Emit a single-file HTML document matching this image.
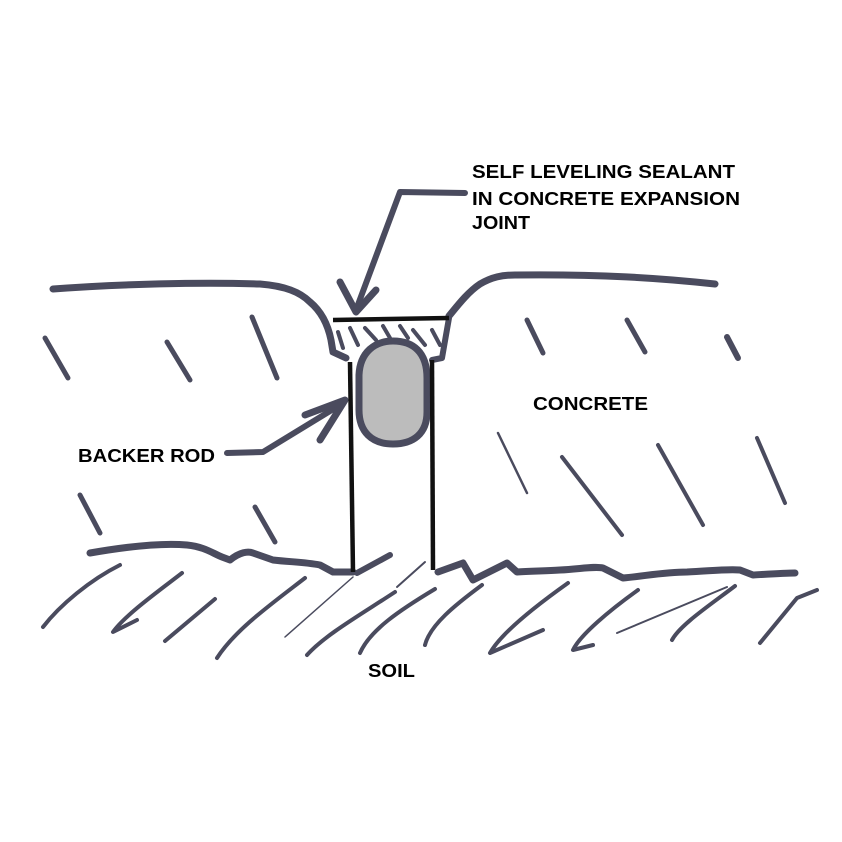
<!DOCTYPE html>
<html><head><style>
html,body{margin:0;padding:0;background:#fff;}
svg{display:block;}
text{font-family:"Liberation Sans",sans-serif;font-weight:bold;font-size:18px;fill:#000;}
</style></head><body>
<svg width="842" height="842" viewBox="0 0 842 842">
<g fill="none" stroke="#4a4b5e" stroke-linecap="round" stroke-linejoin="round">
<!-- top surface -->
<path d="M53,289 C120,284 200,282 260,284 C285,286 300,292 310,302 C322,312 328,325 331,340 L333,352 L346,358" stroke-width="7"/>
<path d="M449,316 C458,305 468,292 480,284 C492,277 502,275 515,275 C600,274 660,278 715,284" stroke-width="7"/>
<path d="M449,318 L442,358 L432,360" stroke-width="6"/>
<!-- sealant hatches -->
<g stroke-width="4">
<path d="M338,332 L343,348"/><path d="M350,328 L358,345"/><path d="M365,328 L376,340"/><path d="M383,326 L390,338"/><path d="M400,326 L408,338"/><path d="M413,330 L425,345"/><path d="M432,330 L440,345"/>
</g>
<!-- backer rod -->
<path d="M359,375 C360,352 375,341 393,341 C413,341 427,352 427,378 L427,412 C427,434 413,444 393,444 C372,444 359,432 359,410 Z" fill="#bcbcbc" stroke-width="7"/>
<!-- bottom lines -->
<path d="M90,553 C130,546 165,543 187,545 C205,547 212,553 222,557 L230,560 C240,552 248,551 253,553 L273,560 C290,562 305,562 320,565 L333,572 L353,572" stroke-width="7"/>
<path d="M438,572 L463,563 L473,580 L507,563 L517,572 C530,571 545,571 560,570 C580,569 595,566 603,568 L623,578 C645,576 665,572 687,572 C710,571 725,569 740,570 L753,575 C770,574 785,573 795,573" stroke-width="7"/>
<!-- concrete hatches -->
<g stroke-width="5">
<path d="M45,338 L68,378"/><path d="M167,342 L190,380"/><path d="M252,317 L277,378"/>
<path d="M527,320 L543,353"/><path d="M627,320 L645,352"/><path d="M727,337 L738,358" stroke-width="6"/>
<path d="M498,433 L527,493" stroke-width="2.5"/><path d="M562,457 L622,535" stroke-width="4"/><path d="M658,445 L703,525" stroke-width="4"/><path d="M757,438 L785,503" stroke-width="4"/>
<path d="M80,495 L100,533"/><path d="M255,507 L275,542"/>
</g>
<!-- soil hatches -->
<g stroke-width="4">
<path d="M120,565 C90,580 60,605 43,627"/>
<path d="M182,573 C160,590 125,615 113,632 L137,620"/>
<path d="M215,599 L165,641"/>
<path d="M305,578 C270,605 235,630 217,658"/>
<path d="M353,577 L285,637" stroke-width="1.5"/>
<path d="M390,555 L357,573" stroke-width="6"/>
<path d="M425,562 L397,587" stroke-width="2"/>
<path d="M395,592 C360,615 325,635 307,655"/>
<path d="M435,589 C400,610 370,630 360,653"/>
<path d="M482,585 C455,605 430,625 425,645"/>
<path d="M568,583 C530,610 500,635 490,653 L543,630"/>
<path d="M638,590 C610,610 580,635 573,650 L593,645"/>
<path d="M735,586 C710,605 680,625 672,640"/>
<path d="M727,587 L617,633" stroke-width="2"/>
<path d="M817,590 L797,598 L760,643"/>
</g>
<!-- arrows -->
<path d="M465,193 L400,192 L356,310" stroke-width="6"/>
<path d="M340,282 L356,312 L376,290" stroke-width="7"/>
<path d="M227,453 L263,452 L340,405" stroke-width="6"/>
<path d="M305,415 L345,400 L320,440" stroke-width="7"/>
</g>
<!-- joint walls -->
<g stroke="#111" fill="none" stroke-width="4.5">
<path d="M333,320 L449,318"/>
<path d="M350,362 L353,572"/>
<path d="M432,360 L433,570"/>
</g>
<text x="472" y="178" textLength="263" lengthAdjust="spacingAndGlyphs">SELF LEVELING SEALANT</text>
<text x="472" y="205" textLength="268" lengthAdjust="spacingAndGlyphs">IN CONCRETE EXPANSION</text>
<text x="472" y="229" textLength="58" lengthAdjust="spacingAndGlyphs">JOINT</text>
<text x="533" y="410" textLength="115" lengthAdjust="spacingAndGlyphs">CONCRETE</text>
<text x="78" y="462" textLength="137" lengthAdjust="spacingAndGlyphs">BACKER ROD</text>
<text x="368" y="677" textLength="47" lengthAdjust="spacingAndGlyphs">SOIL</text>
</svg>
</body></html>
